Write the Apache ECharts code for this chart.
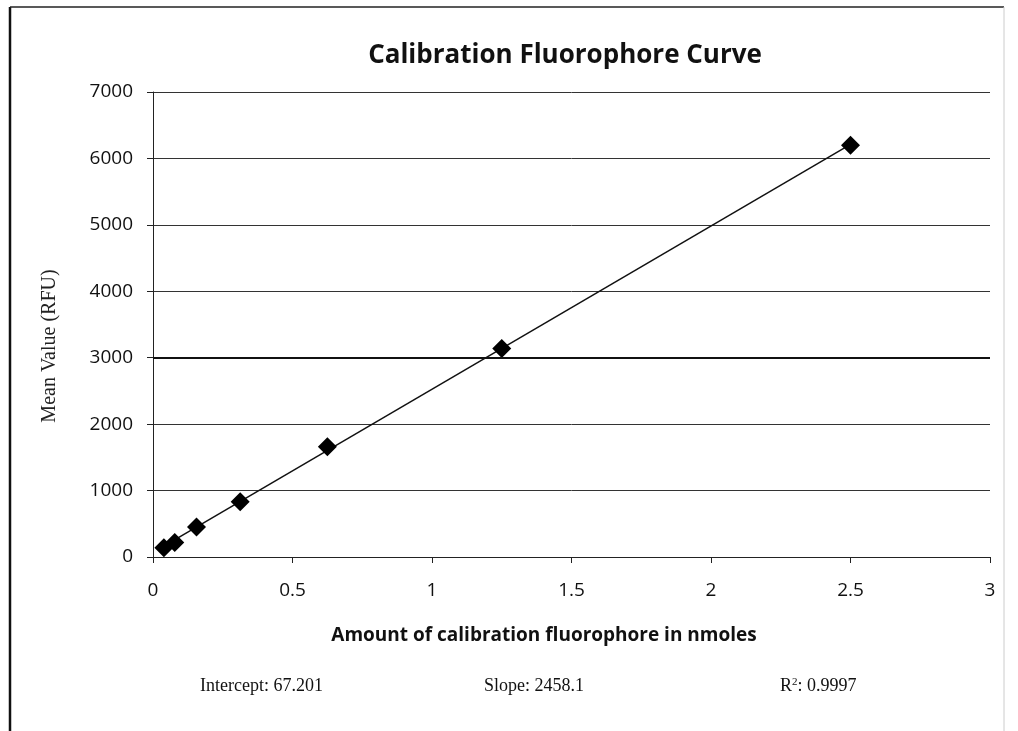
<!DOCTYPE html>
<html>
<head>
<meta charset="utf-8" />
<title>Calibration Fluorophore Curve</title>
<script src="https://cdn.jsdelivr.net/npm/echarts@6/dist/echarts.min.js"></script>
<style>
  html, body { margin: 0; padding: 0; background: #fff; }
  #chart { width: 1018px; height: 731px; }
</style>
</head>
<body>
<div id="chart"></div>
<script>
// fluorophore amounts (nmoles) and mean values (RFU)
var amounts = [0.039, 0.078, 0.156, 0.3125, 0.625, 1.25, 2.5];
var meanValues = [140, 220, 450, 830, 1660, 3140, 6200];
// trend line ends (from intercept 67.201 / slope 2458.1)
var trendX = [0.039, 2.5];
var trendY = [163, 6212];
var statsText = ['Intercept: 67.201', 'Slope: 2458.1', 'R{s|2}: 0.9997'];

var points = amounts.map(function (x, i) { return [x, meanValues[i]]; });
var trend = trendX.map(function (x, i) { return [x, trendY[i]]; });

var calibri = '"Open Sans", sans-serif';
var serif = '"Liberation Serif", "DejaVu Serif", serif';

var myChart = echarts.init(document.getElementById('chart'));
var option = {
    animation: false,
    backgroundColor: '#fff',
    title: {
        text: 'Calibration Fluorophore Curve',
        left: 560,
        textAlign: 'center',
        top: 38,
        textStyle: { fontFamily: calibri, fontSize: 26, fontWeight: 'bold', color: '#111' }
    },
    grid: { left: 153, right: 28, top: 92, bottom: 174 },
    xAxis: {
        type: 'value',
        min: 0, max: 3, interval: 0.5,
        axisLine: { lineStyle: { color: '#222', width: 1 } },
        axisTick: { show: true, length: 6, lineStyle: { color: '#222' } },
        axisLabel: { fontFamily: calibri, fontSize: 19, color: '#111', margin: 24 },
        splitLine: { show: false }
    },
    yAxis: {
        type: 'value',
        min: 0, max: 7000, interval: 1000,
        axisLine: { show: true, lineStyle: { color: '#222', width: 1 } },
        axisTick: { show: true, length: 6, lineStyle: { color: '#222' } },
        axisLabel: {
            fontFamily: calibri, fontSize: 19, color: '#111', margin: 20,
            formatter: function (v) { return String(v); }
        },
        splitLine: { show: true, lineStyle: { color: '#333', width: 1 } }
    },
    series: [
        {
            name: 'Trend',
            type: 'line',
            data: trend,
            symbol: 'none',
            lineStyle: { color: '#111', width: 1.5 },
            z: 2,
            markLine: {
                silent: true,
                symbol: 'none',
                label: { show: false },
                lineStyle: { color: '#111', width: 2, type: 'solid' },
                data: [{ yAxis: 3000 }]
            }
        },
        {
            name: 'Mean Value',
            type: 'scatter',
            data: points,
            symbol: 'diamond',
            symbolSize: 19,
            itemStyle: { color: '#000', opacity: 1 },
            z: 3
        }
    ],
    graphic: [
        { type: 'line', shape: { x1: 10, y1: 7, x2: 10, y2: 731 }, style: { stroke: '#111', lineWidth: 2.5 } },
        { type: 'line', shape: { x1: 10, y1: 7, x2: 1004, y2: 7 }, style: { stroke: '#222', lineWidth: 1.5 } },
        { type: 'line', shape: { x1: 1004, y1: 7, x2: 1004, y2: 731 }, style: { stroke: '#ccc', lineWidth: 1 } },
        {
            type: 'text', x: 50, y: 346, rotation: Math.PI / 2,
            style: { text: 'Mean Value (RFU)', font: '20px ' + serif, fill: '#222', textAlign: 'center', textVerticalAlign: 'middle' }
        },
        {
            type: 'text', x: 544, y: 636,
            style: { text: 'Amount of calibration fluorophore in nmoles', font: 'bold 19px ' + calibri, fill: '#111', textAlign: 'center', textVerticalAlign: 'middle' }
        },
        {
            type: 'text', x: 200, y: 686,
            style: { text: statsText[0], font: '18px ' + serif, fill: '#111', textVerticalAlign: 'middle' }
        },
        {
            type: 'text', x: 484, y: 686,
            style: { text: statsText[1], font: '18px ' + serif, fill: '#111', textVerticalAlign: 'middle' }
        },
        {
            type: 'text', x: 780, y: 686,
            style: {
                text: statsText[2], font: '18px ' + serif, fill: '#111', textVerticalAlign: 'middle',
                rich: { s: { fontSize: 11, fontFamily: serif, verticalAlign: 'top', padding: [0, 0, 8, 0] } }
            }
        }
    ]
};
myChart.setOption(option);
</script>
</body>
</html>
